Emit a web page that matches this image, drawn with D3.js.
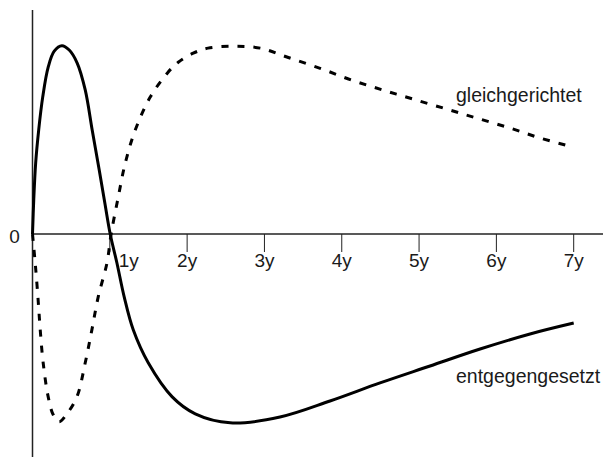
<!DOCTYPE html>
<html><head><meta charset="utf-8">
<script src="https://cdn.jsdelivr.net/npm/d3@7"></script>
<style>body{margin:0;background:#fff}svg{display:block}text{font-family:"Liberation Sans",Arial,sans-serif;fill:#1a1a1a}</style>
</head><body>
<script>
// time in years, relative amplitude
const solidT = [0,0.016,0.041,0.08,0.132,0.203,0.281,0.38,0.475,0.578,0.682,0.772,0.863,0.94,1.005,1.092,1.186,1.303,1.497,1.807,2.105,2.557,3.201,3.848,4.495,5.142,5.789,6.435,7.0];
const solidV = [0,0.18,0.377,0.552,0.727,0.886,0.971,1.0,0.977,0.908,0.765,0.552,0.34,0.154,0,-0.154,-0.334,-0.509,-0.684,-0.865,-0.955,-1.003,-0.972,-0.887,-0.791,-0.701,-0.611,-0.531,-0.473];
const dashT = [0,0.035,0.07,0.1,0.138,0.203,0.268,0.345,0.436,0.574,0.682,0.768,0.85,0.963,1.017,1.109,1.2,1.329,1.523,1.743,1.885,2.079,2.27,2.62,2.946,3.29,3.72,4.13,4.537,4.925,5.36,5.75,6.18,6.57,7.0];
const dashV = [0,-0.154,-0.334,-0.509,-0.684,-0.865,-0.96,-0.997,-0.96,-0.865,-0.684,-0.509,-0.334,-0.154,0,0.196,0.377,0.552,0.727,0.854,0.912,0.96,0.987,0.997,0.987,0.94,0.88,0.817,0.764,0.716,0.663,0.615,0.562,0.509,0.461];
const tickValues = [1,2,3,4,5,6,7];
const tickLabels = ["1y","2y","3y","4y","5y","6y","7y"];
const zeroLabel = "0";
const seriesLabels = ["gleichgerichtet","entgegengesetzt"];

const W = 603, H = 457;
const svg = d3.select("body").append("svg").attr("width", W).attr("height", H);
const x = d3.scaleLinear().domain([0, 7]).range([32.5, 573.7]);
const y = d3.scaleLinear().domain([-1, 1]).range([422.3, 45.7]);
const xMaxAxis = x.invert(603), yTopAxis = y.invert(10), yBotAxis = y.invert(457);

// axes
svg.append("line").attr("x1", x(0)).attr("x2", x(xMaxAxis)).attr("y1", y(0)).attr("y2", y(0))
  .attr("stroke", "#222").attr("stroke-width", 1.5);
svg.append("line").attr("x1", x(0)).attr("x2", x(0)).attr("y1", y(yTopAxis)).attr("y2", y(yBotAxis))
  .attr("stroke", "#222").attr("stroke-width", 1.5);
const ticks = svg.append("g");
ticks.selectAll("line").data(tickValues).join("line")
  .attr("x1", d => x(d)).attr("x2", d => x(d)).attr("y1", y(0)).attr("y2", y(0) + 18)
  .attr("stroke", "#222").attr("stroke-width", 1);
ticks.selectAll("text").data(tickValues).join("text")
  .attr("x", (d, i) => x(d) + (i === 0 ? 19 : 0)).attr("y", y(0) + 33)
  .attr("text-anchor", "middle").attr("font-size", 19)
  .text((d, i) => tickLabels[i]);
svg.append("text").attr("x", 14.5).attr("y", y(0) + 9).attr("text-anchor", "middle")
  .attr("font-size", 19).text(zeroLabel);

const line = d3.line().x(d => x(d[0])).y(d => y(d[1])).curve(d3.curveCatmullRom.alpha(0.5));
svg.append("path").datum(dashT.map((t, i) => [t, dashV[i]])).attr("d", line)
  .attr("fill", "none").attr("stroke", "#000").attr("stroke-width", 3).attr("stroke-dasharray", "7,9");
svg.append("path").datum(solidT.map((t, i) => [t, solidV[i]])).attr("d", line)
  .attr("fill", "none").attr("stroke", "#000").attr("stroke-width", 3);

svg.append("text").attr("x", 456).attr("y", 102).attr("font-size", 19.5).text(seriesLabels[0]);
svg.append("text").attr("x", 456).attr("y", 383).attr("font-size", 19.5).text(seriesLabels[1]);
</script>
</body></html>
